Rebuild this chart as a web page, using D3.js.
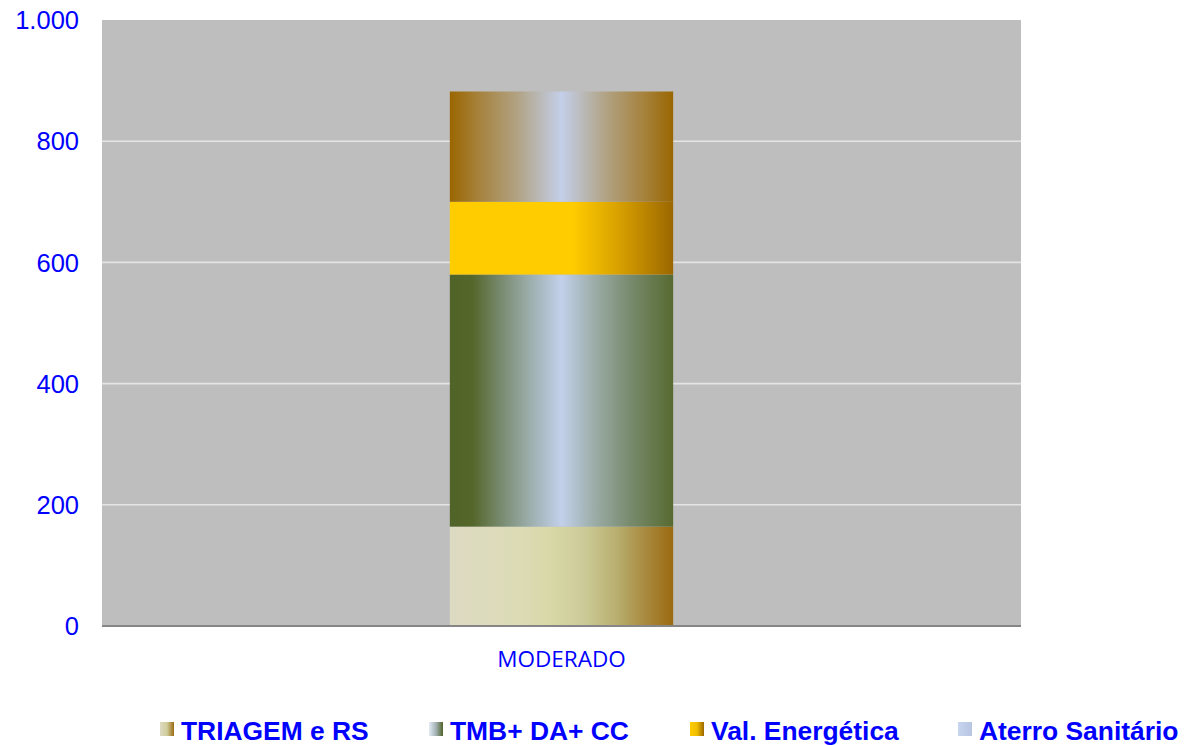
<!DOCTYPE html>
<html>
<head>
<meta charset="utf-8">
<script src="https://cdn.jsdelivr.net/npm/d3@7"></script>
<style>
  html, body { margin: 0; padding: 0; background: #ffffff; }
  svg { display: block; }
</style>
</head>
<body>
<svg id="chart" width="1185" height="745"></svg>
<script>
// Scenario and stacked quantities per treatment route
const categories = ["MODERADO"];
const seriesNames = ["TRIAGEM e RS", "TMB+ DA+ CC", "Val. Energética", "Aterro Sanitário"];
const triagem = [164];
const tmb = [416];
const valEnergetica = [120];
const aterro = [182];
const yTicks = [0, 200, 400, 600, 800, 1000];

const seriesValues = [triagem, tmb, valEnergetica, aterro];

// Horizontal fills for each series (bar body and legend swatch)
const barStops = [
  [[0, "#dddac3"], [0.3, "#dcdbb6"], [0.45, "#d8d8a8"], [0.6, "#cccb98"], [0.75, "#b8ae6e"], [0.88, "#a8883e"], [1, "#9b6a10"]],
  [[0, "#506328"], [0.1, "#546629"], [0.22, "#75886a"], [0.35, "#9aaca8"], [0.5, "#c3d0eb"], [0.65, "#9aaca6"], [0.8, "#7a8c70"], [1, "#566a30"]],
  [[0, "#ffcc00"], [0.55, "#ffcc00"], [0.75, "#d9a200"], [1, "#9c6700"]],
  [[0, "#9a6600"], [0.12, "#a58038"], [0.3, "#b1a283"], [0.5, "#c3cfe9"], [0.7, "#b1a283"], [0.88, "#a58038"], [1, "#9a6600"]]
];
const swatchStops = [
  [[0, "#dddac3"], [0.5, "#cfcd9c"], [1, "#9b6a10"]],
  [[0, "#e4ebf6"], [0.5, "#a4b2b4"], [1, "#4f6228"]],
  [[0, "#ffcc00"], [0.5, "#f0be00"], [1, "#9c6700"]],
  [[0, "#c9d5ee"], [1, "#b7c5e2"]]
];

const svg = d3.select("#chart");
const margin = { left: 102, right: 164, top: 20, bottom: 119 };
const W = 1185, H = 745;
const plotW = W - margin.left - margin.right;
const plotH = H - margin.top - margin.bottom;

const defs = svg.append("defs");
function addGradient(id, stops) {
  const g = defs.append("linearGradient").attr("id", id)
    .attr("x1", "0%").attr("x2", "100%").attr("y1", "0%").attr("y2", "0%");
  stops.forEach(s => g.append("stop").attr("offset", s[0]).attr("stop-color", s[1]));
}
barStops.forEach((s, i) => addGradient("bar" + i, s));
swatchStops.forEach((s, i) => addGradient("sw" + i, s));

const x = d3.scaleBand().domain(categories).range([0, plotW])
  .paddingInner(0.609).paddingOuter(0.609);
const y = d3.scaleLinear().domain([0, 1000]).range([plotH, 0]);

const g = svg.append("g").attr("transform", `translate(${margin.left},${margin.top})`);

// plot background
g.append("rect").attr("x", 0).attr("y", 0).attr("width", plotW).attr("height", plotH)
  .attr("fill", "#bebebe");

// gridlines (the top edge of the plot carries no line)
g.selectAll("line.grid").data(yTicks.filter(t => t > 0 && t < 1000)).join("line")
  .attr("class", "grid")
  .attr("x1", 0).attr("x2", plotW)
  .attr("y1", d => y(d)).attr("y2", d => y(d))
  .attr("stroke", "#e4e4e4").attr("stroke-width", 1.6);

// stacked bar
const stackData = categories.map((c, ci) => {
  const o = { cat: c };
  seriesNames.forEach((n, si) => { o[n] = seriesValues[si][ci]; });
  return o;
});
const stacked = d3.stack().keys(seriesNames)(stackData);

stacked.forEach((layer, si) => {
  g.selectAll(null).data(layer).join("rect")
    .attr("x", d => x(d.data.cat))
    .attr("width", x.bandwidth())
    .attr("y", d => y(d[1]))
    .attr("height", d => y(d[0]) - y(d[1]))
    .attr("fill", `url(#bar${si})`);
});

// bottom axis line
g.append("line").attr("x1", 0).attr("x2", plotW)
  .attr("y1", plotH).attr("y2", plotH)
  .attr("stroke", "#868686").attr("stroke-width", 2);

// y axis labels
const fmt = d3.formatLocale({ decimal: ",", thousands: ".", grouping: [3], currency: ["", ""] }).format(",");
g.selectAll("text.ytick").data(yTicks).join("text")
  .attr("class", "ytick")
  .attr("x", -23).attr("y", d => y(d)).attr("dy", "0.36em")
  .attr("text-anchor", "end")
  .attr("font-family", "'Liberation Sans', Arial, sans-serif")
  .attr("font-size", 25.5)
  .attr("fill", "#0000ff")
  .text(d => fmt(d));

// category label
g.selectAll("text.xtick").data(categories).join("text")
  .attr("class", "xtick")
  .attr("x", d => x(d) + x.bandwidth() / 2)
  .attr("y", plotH + 41)
  .attr("text-anchor", "middle")
  .attr("font-family", "'Open Sans', sans-serif")
  .attr("font-size", 22.5)
  .attr("fill", "#0000ff")
  .text(d => d);

// legend
const legendX = [160, 429, 690, 958];
const legend = svg.append("g");
seriesNames.forEach((n, i) => {
  legend.append("rect").attr("x", legendX[i]).attr("y", 722)
    .attr("width", 14).attr("height", 14).attr("fill", `url(#sw${i})`);
  legend.append("text").attr("x", legendX[i] + 21).attr("y", 740)
    .attr("font-family", "'Liberation Sans', Arial, sans-serif")
    .attr("font-weight", "bold")
    .attr("font-size", 26.4)
    .attr("fill", "#0000ff")
    .text(n);
});
</script>
</body>
</html>
